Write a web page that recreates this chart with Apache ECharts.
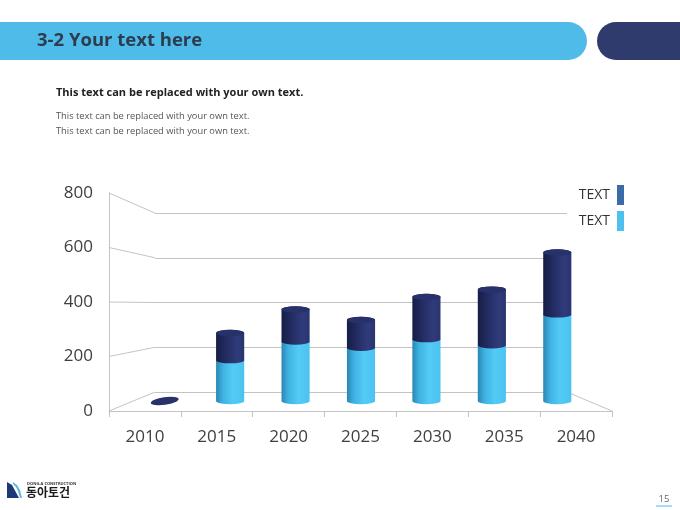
<!DOCTYPE html>
<html lang="ko">
<head>
    <meta charset="UTF-8">
    <title>3-2 Your text here</title>
    <script src="https://cdn.jsdelivr.net/npm/echarts@6/dist/echarts.min.js"></script>
    <style>
        html, body { margin: 0; padding: 0; background: #fff; }
        #box { width: 680px; height: 510px; }
    </style>
</head>
<body>
<div id="box"></div>
<script>
    // data
    var years = ['2010', '2015', '2020', '2025', '2030', '2035', '2040'];
    var lowerVals = [0, 165, 240, 215, 250, 225, 350];
    var upperVals = [0, 110, 130, 112, 170, 225, 250];
    var yTicks = [0, 200, 400, 600, 800];

    var FONT = "'Open Sans', 'Noto Sans CJK KR', sans-serif";
    var GRID_LINE = '#c3c3c3';

    // front / middle / back planes of the fake 3d box
    var front = {left: 109, right: 68, top: 193, bottom: 99};
    var mid = {left: 132, right: 90, top: 203, bottom: 109};
    var back = {left: 155, right: 113, top: 213, bottom: 118};

    var lightGrad = {
        type: 'linear', x: 0, y: 0, x2: 1, y2: 0,
        colorStops: [
            {offset: 0, color: '#2b86b3'},
            {offset: 0.25, color: '#3fb3e3'},
            {offset: 0.6, color: '#54caf6'},
            {offset: 1, color: '#4cc2f0'}
        ]
    };
    var darkGrad = {
        type: 'linear', x: 0, y: 0, x2: 1, y2: 0,
        colorStops: [
            {offset: 0, color: '#161d45'},
            {offset: 0.35, color: '#232c62'},
            {offset: 0.75, color: '#303b7a'},
            {offset: 1, color: '#2a3470'}
        ]
    };

    function bodyPath(cx, w, ry, yBottom, yTop) {
        return 'M' + (cx - w) + ' ' + yTop +
            ' L' + (cx - w) + ' ' + yBottom +
            ' A' + w + ' ' + ry + ' 0 0 0 ' + (cx + w) + ' ' + yBottom +
            ' L' + (cx + w) + ' ' + yTop +
            ' A' + w + ' ' + ry + ' 0 0 0 ' + (cx - w) + ' ' + yTop + ' Z';
    }
    function ellipsePath(cx, cy, w, ry) {
        return 'M' + (cx - w) + ' ' + cy +
            ' A' + w + ' ' + ry + ' 0 1 0 ' + (cx + w) + ' ' + cy +
            ' A' + w + ' ' + ry + ' 0 1 0 ' + (cx - w) + ' ' + cy + ' Z';
    }

    // value[0] = index, value[1] = start, value[2] = end
    function cylinder(grad, withTop) {
        return function (params, api) {
            var i = api.value(0);
            var p0 = api.coord([i, api.value(1)]);
            var p1 = api.coord([i, api.value(2)]);
            var w = api.size([1, 0])[0] * 0.215;
            var ry = 3.2;
            var kids = [];
            if (p0[1] - p1[1] > 0.5) {
                kids.push({
                    type: 'path',
                    shape: {pathData: bodyPath(p0[0], w, ry, p0[1], p1[1])},
                    style: {fill: grad}
                });
            }
            if (withTop) {
                var flat = p0[1] - p1[1] <= 0.5 && api.value(1) === 0;
                kids.push({
                    type: 'path',
                    shape: {pathData: ellipsePath(p1[0], p1[1], w, flat ? 3.8 : ry)},
                    rotation: flat ? 0.14 : 0,
                    originX: p1[0], originY: p1[1],
                    style: {fill: '#27316a'}
                });
            }
            return {type: 'group', children: kids};
        };
    }

    var lowData = years.map(function (y, i) { return [i, 0, lowerVals[i]]; });
    var highData = years.map(function (y, i) { return [i, lowerVals[i], lowerVals[i] + upperVals[i]]; });

    var myChart = echarts.init(document.getElementById('box'), null, {renderer: 'canvas'});

    var option = {
        animation: false,
        textStyle: {fontFamily: FONT},
        grid: [
            {left: front.left, right: front.right, top: front.top, bottom: front.bottom},
            {left: mid.left, right: mid.right, top: mid.top, bottom: mid.bottom},
            {left: back.left, right: back.right, top: back.top, bottom: back.bottom}
        ],
        legend: {
            orient: 'vertical',
            right: 51,
            top: 180,
            itemWidth: 7,
            itemHeight: 20,
            itemGap: 6,
            align: 'right',
            icon: 'rect',
            selectedMode: false,
            textStyle: {fontFamily: FONT, fontSize: 14, color: '#333', padding: [0, 2, 0, 0]},
            formatter: function () { return 'TEXT'; },
            data: [
                {name: 'upper', itemStyle: {color: '#3c6ca8'}},
                {name: 'lower', itemStyle: {color: '#4ec0ee'}}
            ]
        },
        xAxis: [
            {
                gridIndex: 0, type: 'category', data: years, boundaryGap: true,
                axisLine: {lineStyle: {color: GRID_LINE}},
                axisTick: {show: true, length: 6, lineStyle: {color: GRID_LINE}},
                axisLabel: {fontFamily: FONT, fontSize: 17, color: '#404040', margin: 18}
            },
            {gridIndex: 1, type: 'category', data: years, show: false},
            {gridIndex: 2, type: 'category', data: years, show: false}
        ],
        yAxis: [
            {
                gridIndex: 0, type: 'value', min: 0, max: 800, interval: 200,
                axisLine: {show: true, lineStyle: {color: GRID_LINE}},
                axisTick: {show: false},
                splitLine: {show: false},
                axisLabel: {fontFamily: FONT, fontSize: 17, color: '#404040', margin: 16}
            },
            {gridIndex: 1, type: 'value', min: 0, max: 800, interval: 200, show: false},
            {
                gridIndex: 2, type: 'value', min: 0, max: 800, interval: 200,
                axisLine: {show: false}, axisTick: {show: false}, axisLabel: {show: false},
                splitLine: {show: true, lineStyle: {color: GRID_LINE}}
            }
        ],
        series: [
            {
                name: 'lower', type: 'custom', xAxisIndex: 1, yAxisIndex: 1,
                itemStyle: {color: '#4ec0ee'},
                renderItem: cylinder(lightGrad, false),
                encode: {x: 0, y: [1, 2]},
                data: lowData
            },
            {
                name: 'upper', type: 'custom', xAxisIndex: 1, yAxisIndex: 1,
                itemStyle: {color: '#3c6ca8'},
                renderItem: cylinder(darkGrad, true),
                encode: {x: 0, y: [1, 2]},
                data: highData
            }
        ]
    };
    myChart.setOption(option);

    // slanted edges joining the front plane to the back wall
    var edges = [];
    var frontRight = 680 - front.right, backRight = 680 - back.right;
    yTicks.forEach(function (v) {
        var yf = myChart.convertToPixel({yAxisIndex: 0}, v);
        var yb = myChart.convertToPixel({yAxisIndex: 2}, v);
        edges.push({type: 'line', shape: {x1: front.left, y1: yf, x2: back.left, y2: yb},
            style: {stroke: GRID_LINE, lineWidth: 1}, z: 1});
    });
    edges.push({type: 'line', shape: {
            x1: backRight, y1: myChart.convertToPixel({yAxisIndex: 2}, 0),
            x2: frontRight, y2: myChart.convertToPixel({yAxisIndex: 0}, 0)},
        style: {stroke: GRID_LINE, lineWidth: 1}, z: 1});

    // slide decoration
    var deco = [
        {type: 'rect', shape: {x: -40, y: 22, width: 627, height: 38, r: 19}, style: {fill: '#4fbbe9'}},
        {type: 'rect', shape: {x: 597, y: 22, width: 120, height: 38, r: 19}, style: {fill: '#2f3a6d'}},
        {type: 'text', x: 37, y: 41, style: {text: '3-2 Your text here', fill: '#2b3d4f',
                font: 'bold 18.5px ' + FONT, verticalAlign: 'middle'}},
        {type: 'text', x: 56, y: 93, style: {text: 'This text can be replaced with your own text.', fill: '#222',
                font: 'bold 11px ' + FONT, verticalAlign: 'middle'}},
        {type: 'text', x: 56, y: 116, style: {text: 'This text can be replaced with your own text.', fill: '#555',
                font: '9.3px ' + FONT, verticalAlign: 'middle'}},
        {type: 'text', x: 56, y: 131, style: {text: 'This text can be replaced with your own text.', fill: '#555',
                font: '9.3px ' + FONT, verticalAlign: 'middle'}},
        // logo
        {type: 'polygon', shape: {points: [[7, 498], [7, 482], [12, 485], [19, 498]]}, style: {fill: '#1d3a78'}},
        {type: 'polygon', shape: {points: [[13, 482], [17, 485], [20, 490], [22, 498], [20, 498], [18, 491], [16, 487], [13, 484]]},
            style: {fill: '#5fb6e6'}},
        {type: 'text', x: 27, y: 484, style: {text: 'DONG-A CONSTRUCTION', fill: '#333',
                font: 'bold 4px ' + FONT, verticalAlign: 'middle'}},
        {type: 'text', x: 26, y: 492, style: {text: '동아토건', fill: '#1a1a1a',
                font: 'bold 12px "Noto Sans CJK KR", sans-serif', verticalAlign: 'middle'}},
        // page number
        {type: 'text', x: 664, y: 499, style: {text: '15', fill: '#666', font: '9.5px ' + FONT,
                align: 'center', verticalAlign: 'middle'}},
        {type: 'line', shape: {x1: 656, y1: 506, x2: 672, y2: 506}, style: {stroke: '#4fbbe9', lineWidth: 1}}
    ];

    myChart.setOption({graphic: edges.concat(deco)});
</script>
</body>
</html>
